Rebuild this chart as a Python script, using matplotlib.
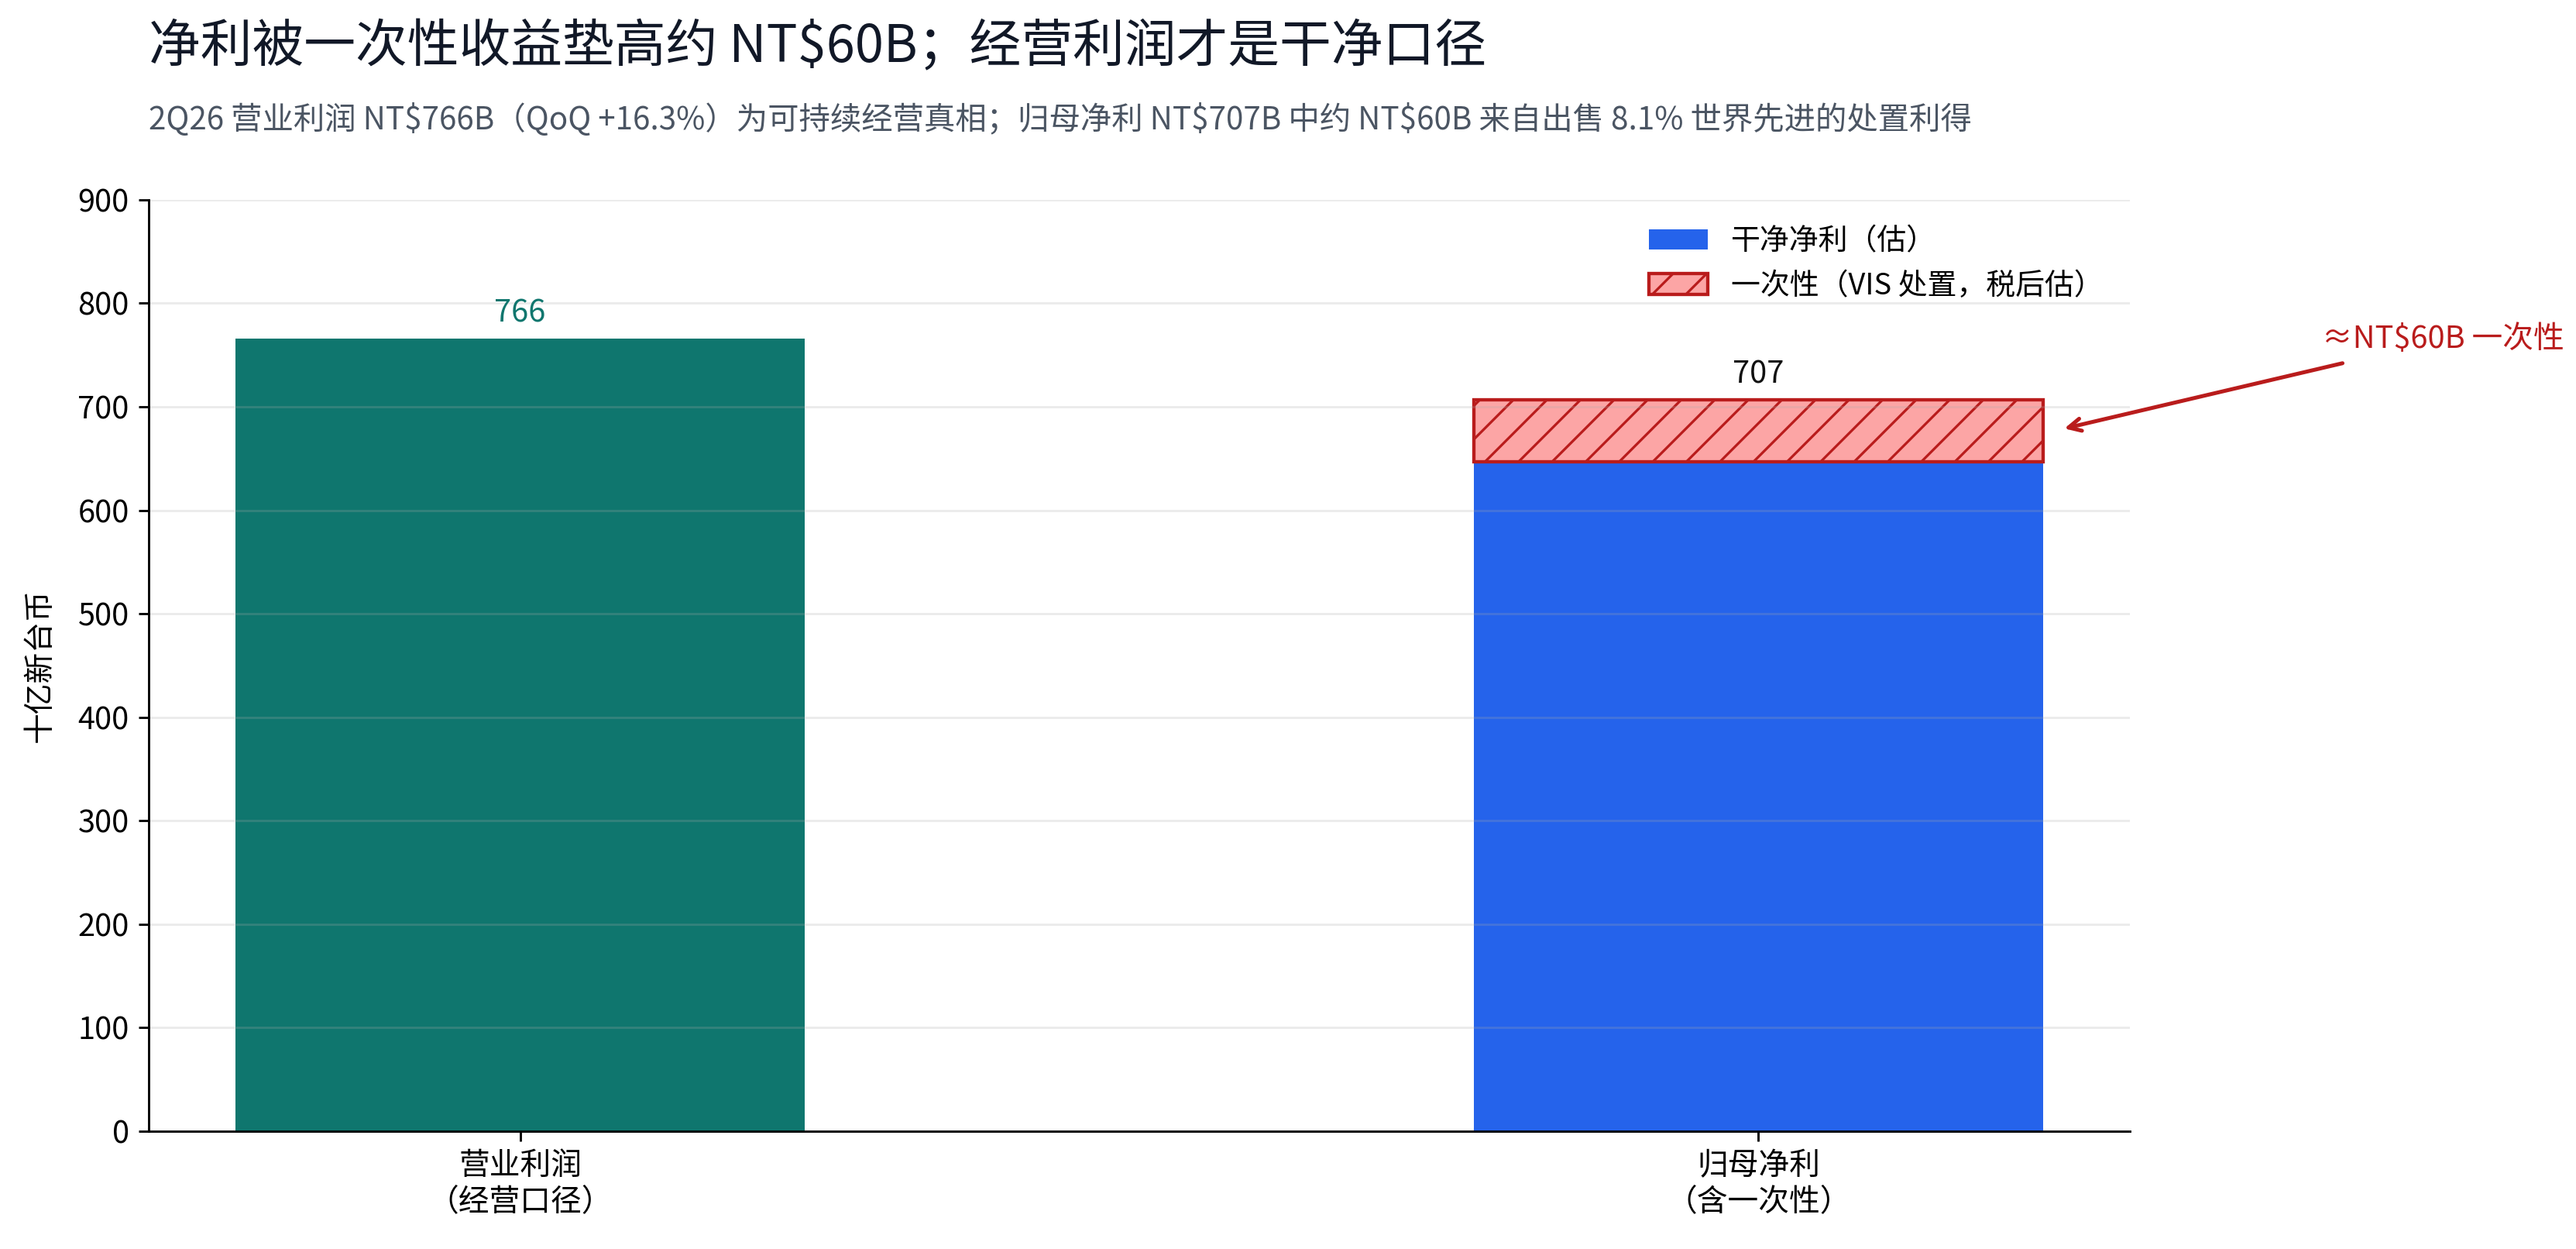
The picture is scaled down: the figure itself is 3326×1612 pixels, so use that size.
import matplotlib
matplotlib.use("Agg")
import matplotlib.pyplot as plt
from matplotlib.patches import Patch

plt.rcParams['font.family'] = ['Noto Sans CJK SC', 'DejaVu Sans']
plt.rcParams['hatch.linewidth'] = 0.9

# data (NT$ billions)
categories = ['营业利润\n（经营口径）', '归母净利\n（含一次性）']
operating_profit = 766
net_profit = 707
one_off = 60
clean_net = net_profit - one_off

teal = '#0f766e'
blue = '#2563eb'
red = '#b91c1c'
pink = '#fca5a5'

fig = plt.figure(figsize=(12.796, 6.2), dpi=260)
ax = fig.add_axes([0.0577, 0.0943, 0.7689, 0.7457])

w = 0.46
ax.bar(0, operating_profit, width=w, color=teal, zorder=1)
ax.bar(1, clean_net, width=w, color=blue, zorder=1)
ax.bar(1, one_off, width=w, bottom=clean_net, color=pink, edgecolor=red,
       hatch='//', linewidth=1.2, zorder=1)

ax.text(0, operating_profit + 9, f'{operating_profit}', ha='center', va='bottom',
        fontsize=11, color=teal)
ax.text(1, net_profit + 9, f'{net_profit}', ha='center', va='bottom',
        fontsize=11, color='#111111')

ax.annotate('≈NT$60B 一次性', xy=(1.247, 679), xytext=(1.553, 750),
            ha='center', va='bottom', fontsize=11, color=red,
            arrowprops=dict(arrowstyle='->', color=red, lw=1.4,
                            shrinkA=4, shrinkB=0),
            annotation_clip=False)

ax.set_xlim(-0.3, 1.3)
ax.set_ylim(0, 900)
ax.set_yticks(range(0, 901, 100))
ax.set_xticks([0, 1])
ax.set_xticklabels(categories, fontsize=11)
ax.tick_params(axis='y', labelsize=11)
ax.set_ylabel('十亿新台币', fontsize=11, labelpad=8)

ax.yaxis.grid(True, color='#aaaaaa', linewidth=0.8, alpha=0.23, zorder=2)
ax.set_axisbelow(False)
for s in ['top', 'right']:
    ax.spines[s].set_visible(False)
for s in ['left', 'bottom']:
    ax.spines[s].set_zorder(3)

handles = [Patch(facecolor=blue, label='干净净利（估）'),
           Patch(facecolor=pink, edgecolor=red, hatch='//', linewidth=1.2,
                 label='一次性（VIS 处置，税后估）')]
ax.legend(handles=handles, loc='upper right', frameon=False, fontsize=10.5,
          bbox_to_anchor=(1.0, 1.0))

fig.text(0.0577, 0.9615, '净利被一次性收益垫高约 NT$60B；经营利润才是干净口径',
         fontsize=18.5, color='#111827', va='center', ha='left')
fig.text(0.0577, 0.904,
         '2Q26 营业利润 NT$766B（QoQ +16.3%）为可持续经营真相；归母净利 NT$707B 中约 NT$60B 来自出售 8.1% 世界先进的处置利得',
         fontsize=11.2, color='#4b5563', va='center', ha='left')

fig.savefig('out.png', dpi=260)
